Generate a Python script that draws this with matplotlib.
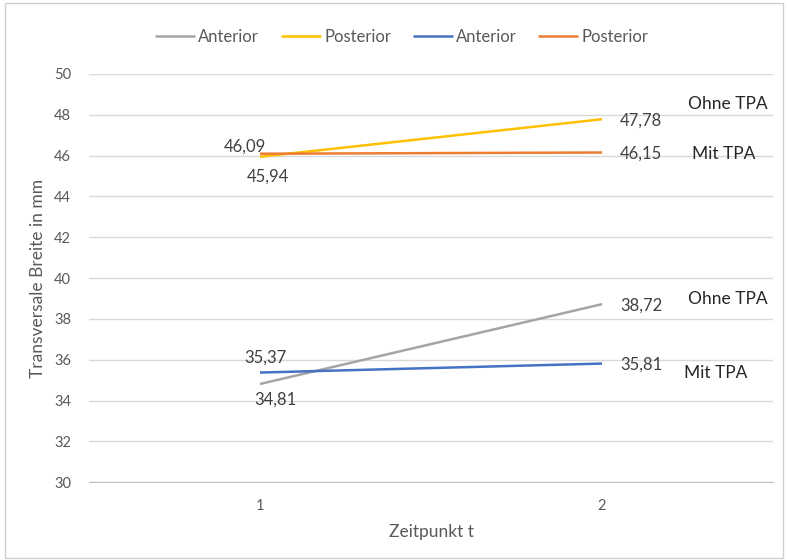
import matplotlib.pyplot as plt
from matplotlib.patches import Rectangle

plt.rcParams['font.family'] = ['Lato', 'DejaVu Sans']

# Messzeitpunkte und Werte (Transversale Breite in mm)
zeitpunkte = [1, 2]
anterior_ohne = [34.81, 38.72]
posterior_ohne = [45.94, 47.78]
anterior_mit = [35.37, 35.81]
posterior_mit = [46.09, 46.15]

series = [
    ('Anterior', anterior_ohne, '#A5A5A5'),
    ('Posterior', posterior_ohne, '#FFC000'),
    ('Anterior', anterior_mit, '#4472C4'),
    ('Posterior', posterior_mit, '#ED7D31'),
]

fig = plt.figure(figsize=(7.88, 5.6), dpi=100)
ax = fig.add_axes([0.113, 0.139, 0.868, 0.729])

for name, values, color in series:
    ax.plot(zeitpunkte, values, color=color, lw=1.8, label=name, solid_capstyle='butt')

def fmt(v):
    return f'{v:.2f}'.replace('.', ',')

lab_kw = dict(textcoords='offset points', fontsize=12, color='#404040', va='center')

# Beschriftungen am ersten Zeitpunkt
ax.annotate(fmt(posterior_mit[0]), (1, posterior_mit[0]), xytext=(-11, 5), ha='center', **lab_kw)
ax.annotate(fmt(posterior_ohne[0]), (1, posterior_ohne[0]), xytext=(6, -14), ha='center', **lab_kw)
ax.annotate(fmt(anterior_mit[0]), (1, anterior_mit[0]), xytext=(4, 11), ha='center', **lab_kw)
ax.annotate(fmt(anterior_ohne[0]), (1, anterior_ohne[0]), xytext=(11, -11), ha='center', **lab_kw)

# Beschriftungen am zweiten Zeitpunkt
for values in (posterior_ohne, posterior_mit, anterior_ohne, anterior_mit):
    ax.annotate(fmt(values[1]), (2, values[1]), xytext=(13, -1), ha='left', **lab_kw)

grp_kw = dict(textcoords='offset points', fontsize=12.5, color='#262626', va='center', ha='left')
ax.annotate('Ohne TPA', (2, posterior_ohne[1]), xytext=(62, 11), **grp_kw)
ax.annotate('Mit TPA', (2, posterior_mit[1]), xytext=(65, -1), **grp_kw)
ax.annotate('Ohne TPA', (2, anterior_ohne[1]), xytext=(62, 4), **grp_kw)
ax.annotate('Mit TPA', (2, anterior_mit[1]), xytext=(59, -7), **grp_kw)

ax.set_xlim(0.5, 2.5)
ax.set_ylim(30, 50)
ax.set_yticks(range(30, 51, 2))
ax.set_xticks(zeitpunkte)
ax.grid(axis='y', color='#D9D9D9', lw=1)
ax.set_axisbelow(True)
for side in ('top', 'right', 'left'):
    ax.spines[side].set_visible(False)
ax.spines['bottom'].set_color('#BFBFBF')
ax.tick_params(length=0, labelsize=10.5, labelcolor='#595959', pad=13)
ax.tick_params(axis='x', pad=12)

ax.set_xlabel('Zeitpunkt t', fontsize=12.5, color='#595959', labelpad=8)
ax.set_ylabel('Transversale Breite in mm', fontsize=12.5, color='#595959', labelpad=6)

fig.legend(loc='upper center', bbox_to_anchor=(0.51, 0.975), ncol=4, frameon=False,
           fontsize=12, handlelength=2.4, columnspacing=1.3, handletextpad=0.2,
           labelcolor='#595959')

fig.patches.append(Rectangle((0.006, 0.004), 0.988, 0.99, transform=fig.transFigure,
                             fill=False, edgecolor='#D0D0D0', lw=1))

fig.savefig('out.png', dpi=100, facecolor='white')
